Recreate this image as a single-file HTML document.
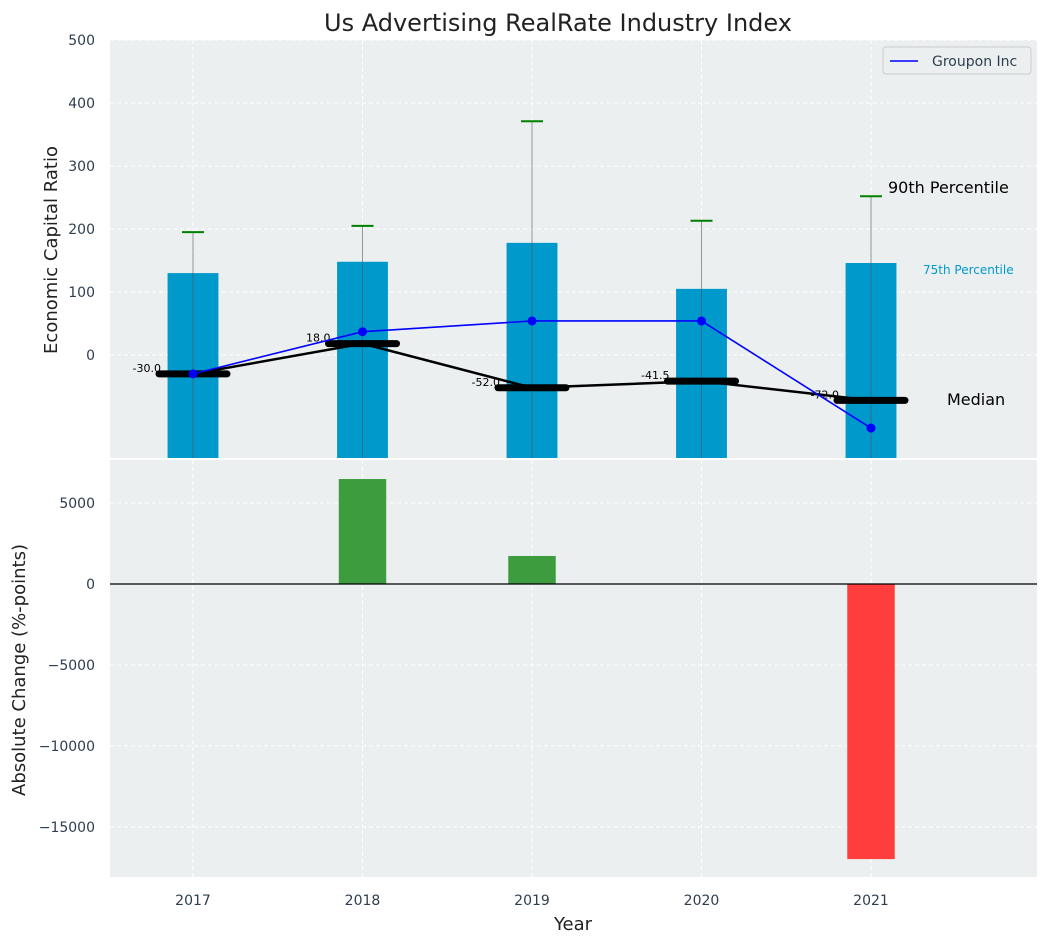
<!DOCTYPE html>
<html><head><meta charset="utf-8"><style>
body{margin:0;background:#fff;font-family:"DejaVu Sans","Liberation Sans",sans-serif}
svg text{font-family:"DejaVu Sans","Liberation Sans",sans-serif}
</style></head><body>
<svg id="c" width="1048" height="942" xmlns="http://www.w3.org/2000/svg"></svg>
<script>
const years=[2017,2018,2019,2020,2021];
const p75=[130,148,178,105,146];
const p90=[195,205,371,213,252];
const median=[-30,18,-52,-41.5,-72];
const groupon=[-30,37,54,54,-116];
const change=[0,6480,1730,0,-16980];
const topTicks=[0,100,200,300,400,500];
const botTicks=[5000,0,-5000,-10000,-15000];
const NS='http://www.w3.org/2000/svg';
const svg=document.getElementById('c');
function el(t,a,txt){const e=document.createElementNS(NS,t);for(const k in a)e.setAttribute(k,a[k]);if(txt!==undefined)e.textContent=txt;svg.appendChild(e);return e;}
const L=110,R=1037;
const x=v=>193+(v-2017)*169.5;
const yT=v=>355-v*0.63;
const yB=v=>584-v*81/5000;
let e=el('rect',{x:L,y:40,width:R-L,height:418,fill:'#ebeff0'});

e=el('rect',{x:L,y:460,width:R-L,height:417,fill:'#ebeff0'});

years.forEach(yr=>{
 e=el('line',{x1:x(yr),x2:x(yr),y1:40,y2:458,stroke:'#fff','stroke-dasharray':'4,3'});
 e=el('line',{x1:x(yr),x2:x(yr),y1:460,y2:877,stroke:'#fff','stroke-dasharray':'4,3'});
 e=el('text',{x:x(yr),y:905,'text-anchor':'middle','font-size':14,fill:'#2e3e50'},yr);
});
topTicks.forEach(t=>{
 e=el('line',{x1:L,x2:R,y1:yT(t),y2:yT(t),stroke:'#fff','stroke-dasharray':'4,3'});
 e=el('text',{x:95,y:yT(t)+5,'text-anchor':'end','font-size':14,fill:'#2e3e50'},t);
});
botTicks.forEach(t=>{
 e=el('line',{x1:L,x2:R,y1:yB(t),y2:yB(t),stroke:'#fff','stroke-dasharray':'4,3'});
 e=el('text',{x:95,y:yB(t)+5,'text-anchor':'end','font-size':14,fill:'#2e3e50'},t<0?'\u2212'+(-t):t);
});
const bw=x(2017.3)-x(2017);
years.forEach((yr,i)=>{
 e=el('rect',{x:x(yr)-bw/2,y:yT(p75[i]),width:bw,height:458-yT(p75[i]),fill:'#0099cc'});
 e=el('line',{x1:x(yr),x2:x(yr),y1:458,y2:yT(p90[i]),stroke:'#555','stroke-opacity':0.6,'stroke-width':1});
 e=el('line',{x1:x(yr)-11,x2:x(yr)+11,y1:yT(p90[i]),y2:yT(p90[i]),stroke:'green','stroke-width':2});
});
e=el('polyline',{points:years.map((yr,i)=>x(yr)+','+yT(median[i])).join(' '),fill:'none',stroke:'#000','stroke-width':2.5});
years.forEach((yr,i)=>{
 e=el('text',{x:x(yr)-32,y:yT(median[i])-2,'text-anchor':'end','font-size':11,fill:'#000'},median[i].toFixed(1));
 e=el('line',{x1:x(yr)-34,x2:x(yr)+34,y1:yT(median[i]),y2:yT(median[i]),stroke:'#000','stroke-width':7,'stroke-linecap':'round'});
});
e=el('polyline',{points:years.map((yr,i)=>x(yr)+','+yT(groupon[i])).join(' '),fill:'none',stroke:'blue','stroke-width':1.6});
years.forEach((yr,i)=>{e=el('circle',{cx:x(yr),cy:yT(groupon[i]),r:4.5,fill:'blue'});});
e=el('text',{x:888,y:193,'font-size':16,fill:'#000'},'90th Percentile');
e=el('text',{x:923,y:274,'font-size':12,fill:'#0099cc'},'75th Percentile');
e=el('text',{x:947,y:405,'font-size':16,fill:'#000'},'Median');
e=el('rect',{x:883,y:47,width:148,height:27,fill:'#ebeff0',stroke:'#ccc',rx:3});
e=el('line',{x1:890,x2:918,y1:61,y2:61,stroke:'blue','stroke-width':1.6});
e=el('text',{x:932,y:66,'font-size':14,fill:'#2e3e50'},'Groupon Inc');
const bw2=x(2017.28)-x(2017);
years.forEach((yr,i)=>{
 if(change[i]===0)return;
 const y0=yB(Math.max(0,change[i])),y1=yB(Math.min(0,change[i]));
 e=el('rect',{x:x(yr)-bw2/2,y:y0,width:bw2,height:y1-y0,fill:change[i]>0?'#3d9c3d':'#ff3d3d'});
});
e=el('line',{x1:L,x2:R,y1:yB(0),y2:yB(0),stroke:'#000','stroke-width':1.2});
e=el('text',{x:558,y:31,'text-anchor':'middle','font-size':24,fill:'#222'},'Us Advertising RealRate Industry Index');
e=el('text',{x:573,y:930,'text-anchor':'middle','font-size':18,fill:'#222'},'Year');
e=el('text',{x:0,y:0,'text-anchor':'middle','font-size':18,fill:'#222',transform:'translate(57,250) rotate(-90)'},'Economic Capital Ratio');
e=el('text',{x:0,y:0,'text-anchor':'middle','font-size':18,fill:'#222',transform:'translate(25,670) rotate(-90)'},'Absolute Change (%-points)');
</script>
</body></html>
